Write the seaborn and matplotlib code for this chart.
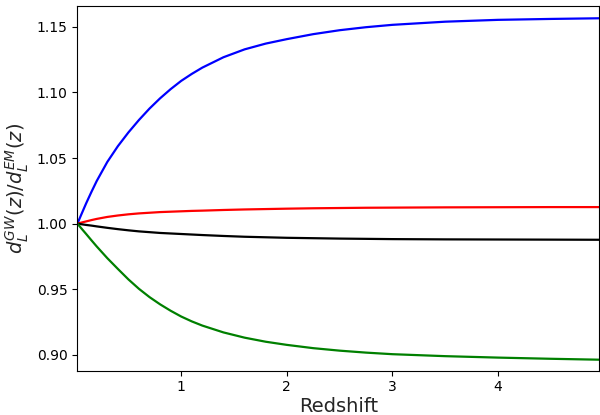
import numpy as np
import pandas as pd
import matplotlib
matplotlib.use("Agg")
import matplotlib.pyplot as plt
import seaborn as sns

redshift = [0.017, 0.05, 0.1, 0.15, 0.2, 0.3, 0.4, 0.5, 0.6, 0.7, 0.8, 0.9, 1.0,
            1.1, 1.2, 1.4, 1.6, 1.8, 2.0, 2.25, 2.5, 2.75, 3.0, 3.5, 4.0, 4.5, 4.96]
blue = [1.0000, 1.0062, 1.0155, 1.0242, 1.0325, 1.0470, 1.0590, 1.0695, 1.0790,
        1.0877, 1.0955, 1.1025, 1.1088, 1.1141, 1.1189, 1.1268, 1.1328, 1.1372,
        1.1406, 1.1444, 1.1474, 1.1497, 1.1515, 1.1539, 1.1553, 1.1560, 1.1565]
red = [1.0000, 1.0007, 1.0017, 1.0027, 1.0036, 1.0051, 1.0062, 1.0071, 1.0078,
       1.0083, 1.0088, 1.0091, 1.0094, 1.0097, 1.0099, 1.0104, 1.0108, 1.0111,
       1.0114, 1.0117, 1.0119, 1.0121, 1.0122, 1.0124, 1.0125, 1.0126, 1.0126]
black = [1.0000, 0.9996, 0.9990, 0.9985, 0.9979, 0.9968, 0.9958, 0.9949, 0.9941,
         0.9935, 0.9929, 0.9925, 0.9921, 0.9917, 0.9913, 0.9906, 0.9900, 0.9896,
         0.9892, 0.9889, 0.9886, 0.9884, 0.9882, 0.9880, 0.9879, 0.9878, 0.9877]
green = [1.0000, 0.9968, 0.9921, 0.9873, 0.9826, 0.9737, 0.9655, 0.9575, 0.9503,
         0.9440, 0.9385, 0.9336, 0.9292, 0.9255, 0.9223, 0.9171, 0.9131, 0.9100,
         0.9076, 0.9051, 0.9032, 0.9017, 0.9005, 0.8990, 0.8979, 0.8970, 0.8963]
series_names = ["blue", "red", "black", "green"]
series_colors = ["#0000ff", "#ff0000", "#000000", "#008000"]

frames = []
for name, vals in zip(series_names, [blue, red, black, green]):
    frames.append(pd.DataFrame({"z": redshift, "ratio": vals, "series": name}))
df = pd.concat(frames, ignore_index=True)

sns.set_style("ticks")
plt.rcParams["font.family"] = ["DejaVu Sans"]

fig = plt.figure(figsize=(6.0, 4.15), dpi=100)
ax = fig.add_axes([0.129, 0.107, 0.870, 0.879])
sns.lineplot(data=df, x="z", y="ratio", hue="series", hue_order=series_names,
             palette=dict(zip(series_names, series_colors)), sort=False,
             legend=False, linewidth=1.6, ax=ax)

ax.set_xlim(0.017, 4.96)
ax.set_ylim(0.888, 1.166)
ax.set_xticks([1, 2, 3, 4])
ax.set_yticks([0.90, 0.95, 1.00, 1.05, 1.10, 1.15])
ax.set_yticklabels(["0.90", "0.95", "1.00", "1.05", "1.10", "1.15"])
ax.tick_params(labelsize=10, colors="black", length=3.5, width=0.8)
for s in ax.spines.values():
    s.set_color("black")
    s.set_linewidth(0.8)
ax.set_xlabel("Redshift", fontsize=14, labelpad=2)
ax.set_ylabel(r"$d_L^{GW}(z)/d_L^{EM}(z)$", fontsize=14, labelpad=4)

fig.savefig("out.png", dpi=100)
